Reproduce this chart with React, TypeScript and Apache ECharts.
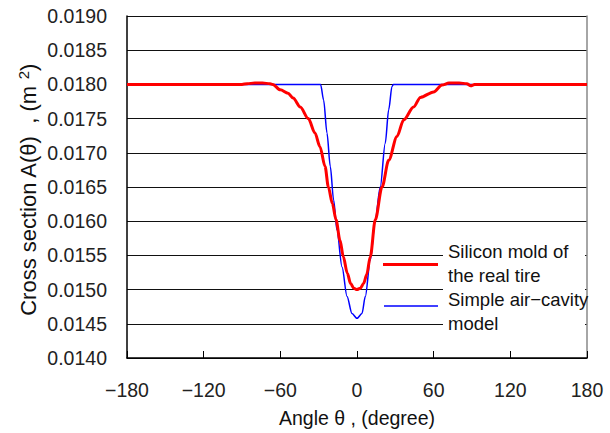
import React, { useEffect, useRef } from "react";
import * as echarts from "echarts";

const xTicks = [-180, -120, -60, 0, 60, 120, 180];
const yMin = 0.014;
const yMax = 0.019;
const yStep = 0.0005;

// Silicon mold of the real tire (red)
const redAngle = [-180, -90, -86, -80, -74, -68, -66, -60, -54, -50, -44.4, -38.1, -32.9, -29, -25, -22.4, -19.3, -16.4, -13.3, -10.7, -7.6, -5, -2.5, 0, 2.6, 5.2, 7.6, 10.4, 14.3, 19.6, 24.8, 31.3, 36.5, 44.3, 49.6, 60, 66.5, 72, 80, 86, 89, 92, 180];
const redValue = [0.018, 0.018, 0.01801, 0.01802, 0.01802, 0.01801, 0.018, 0.01792, 0.01787, 0.0178, 0.01767, 0.0175, 0.01729, 0.01709, 0.0168, 0.0165, 0.01626, 0.01602, 0.01572, 0.01548, 0.01524, 0.01509, 0.01502, 0.015, 0.01502, 0.01509, 0.01522, 0.01548, 0.01602, 0.0165, 0.01689, 0.01724, 0.01748, 0.01767, 0.01781, 0.01789, 0.01799, 0.01802, 0.01802, 0.01801, 0.01798, 0.018, 0.018];

// Simple air-cavity model (blue)
const blueAngle = [-90, -30, -28.5, -26.1, -23.5, -20.9, -18.3, -15.7, -11.7, -7.8, -3.9, 0, 3.9, 6.5, 10.4, 14.3, 18.2, 22.1, 24.8, 27.4, 28.5, 30, 90];
const blueValue = [0.018, 0.018, 0.018, 0.01777, 0.01729, 0.0168, 0.01631, 0.01587, 0.01533, 0.0149, 0.01465, 0.01458, 0.01465, 0.0149, 0.01543, 0.01602, 0.0165, 0.01714, 0.01763, 0.01797, 0.018, 0.018, 0.018];

const legendLines = ["Silicon mold of", "the real tire", "Simple air\u2212cavity", "model"];

const FONT = '"Liberation Sans", Arial, sans-serif';

export default function App() {
  const ref = useRef<HTMLDivElement>(null);
  useEffect(() => {
    if (!ref.current) return;
    const chart = echarts.init(ref.current, null, { renderer: "svg" });
    const gridLeft = 127;
    const gridTop = 16;
    const gridRight = 587;
    const gridBottom = 358;
    chart.setOption({
      animation: false,
      backgroundColor: "#fff",
      grid: { left: gridLeft, top: gridTop, width: gridRight - gridLeft, height: gridBottom - gridTop, containLabel: false },
      xAxis: {
        type: "value",
        min: xTicks[0],
        max: xTicks[xTicks.length - 1],
        interval: 60,
        axisLine: { show: true, onZero: false, lineStyle: { color: "#000", width: 1.5 } },
        axisTick: { show: true, inside: true, length: 7, lineStyle: { color: "#000", width: 1 } },
        splitLine: { show: false },
        axisLabel: {
          margin: 22,
          fontSize: 19.5,
          fontFamily: FONT,
          color: "#222",
          formatter: (v: number) => (v < 0 ? "\u2212" + Math.abs(v) : String(v)),
        },
      },
      yAxis: [
        {
          type: "value",
          min: yMin,
          max: yMax,
          interval: yStep,
          axisLine: { show: true, onZero: false, lineStyle: { color: "#000", width: 1.5 } },
          axisTick: { show: false },
          splitLine: { show: true, lineStyle: { color: "#111", width: 1 } },
          axisLabel: {
            margin: 20,
            fontSize: 19.5,
            fontFamily: FONT,
            color: "#222",
            formatter: (v: number) => v.toFixed(4),
          },
        },
        {
          type: "value",
          position: "right",
          min: yMin,
          max: yMax,
          interval: yStep,
          axisLine: { show: true, onZero: false, lineStyle: { color: "#888", width: 1.5 } },
          axisTick: { show: false },
          splitLine: { show: false },
          axisLabel: { show: false },
        },
      ],
      series: [
        {
          name: "Simple air-cavity model",
          type: "line",
          data: blueAngle.map((a, i) => [a, blueValue[i]]),
          showSymbol: false,
          smooth: 0.3,
          smoothMonotone: "x",
          lineStyle: { color: "#0000ff", width: 1.5 },
          z: 3,
        },
        {
          name: "Silicon mold of the real tire",
          type: "line",
          data: redAngle.map((a, i) => [a, redValue[i]]),
          showSymbol: false,
          smooth: 0.3,
          smoothMonotone: "x",
          lineStyle: { color: "#ff0000", width: 3 },
          z: 4,
        },
      ],
      graphic: [
        {
          type: "rect",
          z: 10,
          shape: { x: 443, y: 238, width: 142, height: 98 },
          style: { fill: "#fff" },
        },
        {
          type: "line",
          z: 10,
          shape: { x1: 383, y1: 264.5, x2: 438, y2: 264.5 },
          style: { stroke: "#ff0000", lineWidth: 3 },
        },
        {
          type: "line",
          z: 10,
          shape: { x1: 384, y1: 306, x2: 438, y2: 306 },
          style: { stroke: "#0000ff", lineWidth: 1.5 },
        },
        ...legendLines.map((t, i) => ({
          type: "text",
          z: 11,
          x: 448,
          y: [251, 275, 299.5, 323.5][i],
          style: { text: t, fontSize: 18.5, fontFamily: FONT, fill: "#111", align: "left", verticalAlign: "middle" },
        })),
        {
          type: "text",
          z: 11,
          x: 357,
          y: 418,
          style: { text: "Angle \u03b8 , (degree)", fontSize: 19.5, fontFamily: FONT, fill: "#111", align: "center", verticalAlign: "middle" },
        },
        {
          type: "text",
          z: 11,
          x: 28,
          y: 190,
          rotation: Math.PI / 2,
          style: {
            text: "{a|Cross section A(\u03b8)  , (m }{s|2}{a|)}",
            align: "center",
            verticalAlign: "middle",
            rich: {
              a: { fontSize: 22, fontFamily: FONT, fill: "#111" },
              s: { fontSize: 15, fontFamily: FONT, fill: "#111", padding: [0, 0, 10, 0] },
            },
          },
        },
      ],
    });
    return () => chart.dispose();
  }, []);
  return <div ref={ref} style={{ position: "fixed", left: 0, top: 0, width: 610, height: 433 }} />;
}
